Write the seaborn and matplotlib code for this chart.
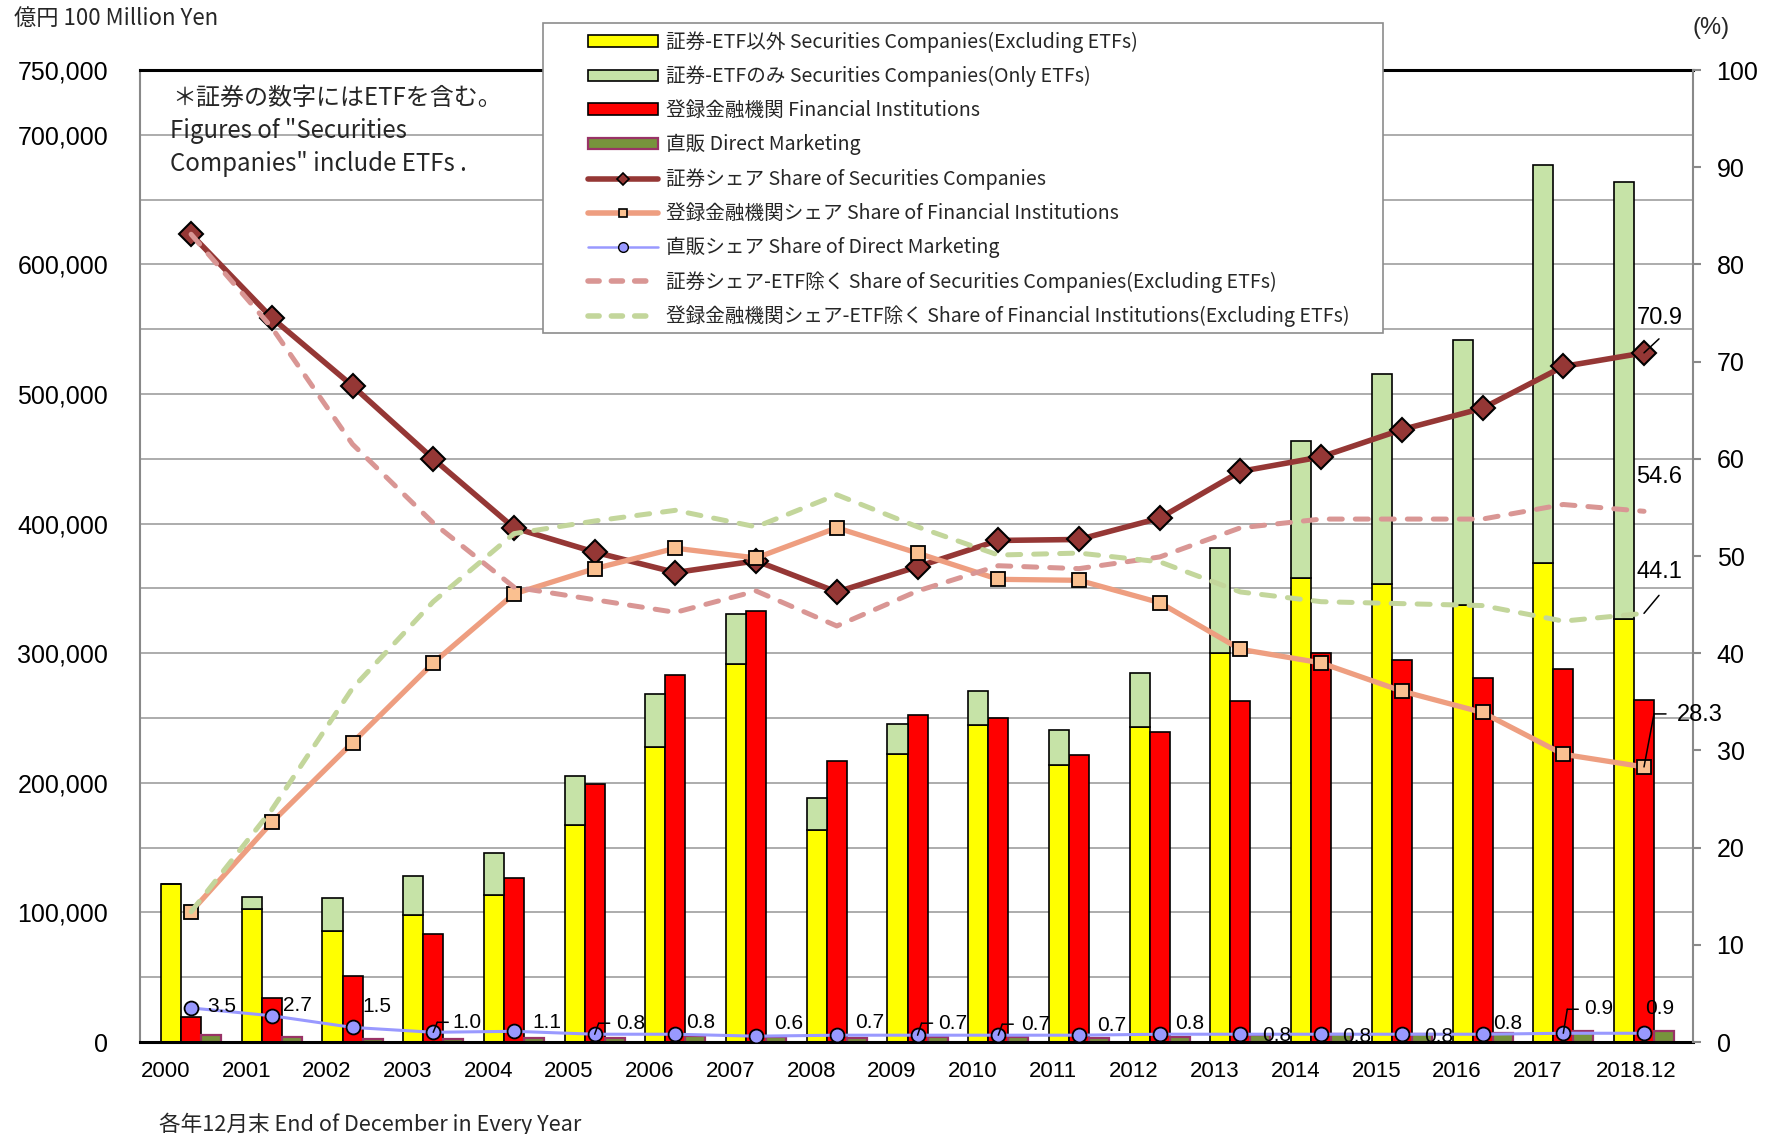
import numpy as np
import pandas as pd
import matplotlib
matplotlib.use("Agg")
import matplotlib.pyplot as plt
from matplotlib.patches import Patch, Rectangle
from matplotlib.lines import Line2D
from matplotlib.ticker import FuncFormatter
from matplotlib.transforms import offset_copy
import seaborn as sns

# ---------------- data ----------------
years = ["2000", "2001", "2002", "2003", "2004", "2005", "2006", "2007", "2008", "2009",
         "2010", "2011", "2012", "2013", "2014", "2015", "2016", "2017", "2018.12"]

sec_excl_etf = [122000, 102300, 85800, 97900, 113700, 167600, 227900, 291600, 163300, 222600,
                244500, 213900, 242700, 300400, 358000, 353600, 337000, 369300, 326500]
etf_only = [0, 9300, 25100, 30500, 31800, 37600, 41000, 38400, 25300, 22700,
            26200, 27100, 41900, 81100, 105600, 161500, 204300, 307400, 337100]
fin_inst = [19100, 33600, 50900, 83500, 126600, 199100, 282900, 332700, 216500, 252300,
            249700, 221800, 239200, 262800, 300300, 295100, 281100, 288100, 263700]
direct = [5100, 4200, 2700, 2200, 3000, 3300, 4400, 4000, 2900, 3500,
          3700, 3300, 4200, 5200, 6200, 6400, 7000, 8700, 8300]

sec_share = [83.1, 74.5, 67.5, 60.0, 52.9, 50.4, 48.3, 49.5, 46.3, 48.9,
             51.6, 51.7, 53.9, 58.7, 60.2, 63.0, 65.2, 69.5, 70.9]
fin_share = [13.4, 22.6, 30.8, 39.0, 46.1, 48.7, 50.8, 49.8, 52.9, 50.3,
             47.6, 47.5, 45.2, 40.4, 39.0, 36.1, 33.9, 29.6, 28.3]
direct_share = [3.5, 2.7, 1.5, 1.0, 1.1, 0.8, 0.8, 0.6, 0.7, 0.7,
                0.7, 0.7, 0.8, 0.8, 0.8, 0.8, 0.8, 0.9, 0.9]
sec_excl_share = [83.1, 73.5, 61.5, 53.4, 46.8, 45.5, 44.2, 46.4, 42.8, 46.4,
                  49.0, 48.7, 49.9, 52.9, 53.8, 53.8, 53.8, 55.3, 54.6]
fin_excl_share = [13.4, 23.9, 36.4, 45.3, 52.3, 53.6, 54.7, 53.0, 56.3, 53.0,
                  50.1, 50.3, 49.4, 46.3, 45.3, 45.1, 44.9, 43.3, 44.1]

labels = [
    "証券-ETF以外 Securities Companies(Excluding ETFs)",
    "証券-ETFのみ Securities Companies(Only ETFs)",
    "登録金融機関 Financial Institutions",
    "直販 Direct Marketing",
    "証券シェア Share of Securities Companies",
    "登録金融機関シェア Share of Financial Institutions",
    "直販シェア Share of Direct Marketing",
    "証券シェア-ETF除く Share of Securities Companies(Excluding ETFs)",
    "登録金融機関シェア-ETF除く Share of Financial Institutions(Excluding ETFs)",
]

# ---------------- style ----------------
sns.set_theme(style="white")
plt.rcParams["font.family"] = ["Liberation Sans", "Noto Sans CJK JP", "DejaVu Sans"]
CJK = ["Noto Sans CJK JP", "DejaVu Sans"]

C_YEL = "#FFFF00"
C_ETF = "#C6E3A7"
C_RED = "#FF0000"
C_DIR = "#77933C"
C_DIR_E = "#993366"
C_SEC = "#953735"
C_FIN = "#EE9E80"
C_FIN_M = "#FAC090"
C_DS = "#9999FF"
C_SECX = "#D99694"
C_FINX = "#C3D69B"
GRID = "#A6A6A6"
SPINE = "#898989"

W, H = 1774, 1134
fig = plt.figure(figsize=(W / 100, H / 100), dpi=100)
L, R, T, B = 140, 1693, 70, 1042
pos = [L / W, 1 - B / H, (R - L) / W, (B - T) / H]
ax = fig.add_axes(pos)

n = len(years)
bw_total = 0.745
bw = bw_total / 3

df = pd.concat([
    pd.DataFrame({"year": years, "value": sec_excl_etf, "series": labels[0]}),
    pd.DataFrame({"year": years, "value": fin_inst, "series": labels[2]}),
    pd.DataFrame({"year": years, "value": direct, "series": labels[3]}),
], ignore_index=True)

sns.barplot(data=df, x="year", y="value", hue="series", order=years,
            hue_order=[labels[0], labels[2], labels[3]],
            palette=[C_YEL, C_RED, C_DIR], width=bw_total, saturation=1,
            edgecolor="black", linewidth=1.2, errorbar=None, legend=False, ax=ax)
for p in ax.containers[2]:
    p.set_edgecolor(C_DIR_E)
    p.set_linewidth(1.6)

xpos = np.arange(n)
ax.bar(xpos - bw, etf_only, bottom=sec_excl_etf, width=bw, color=C_ETF,
       edgecolor="black", linewidth=1.2)

ax.set_xlim(-0.633, n - 1 + 0.607)
ax.set_ylim(0, 750000)
yt = np.arange(0, 750001, 50000)
ax.set_yticks(yt)
ax.yaxis.set_major_formatter(FuncFormatter(
    lambda v, p: (f"{int(v):,}" if (int(v) % 100000 == 0 or int(v) == 750000) else "")))
ax.set_axisbelow(True)
ax.yaxis.grid(True, color=GRID, lw=1.3)
ax.xaxis.grid(False)
ax.set_xlabel("")
ax.set_ylabel("")

tick_pos = [i - 0.317 for i in range(n - 1)] + [n - 1 - 0.1]
ax.set_xticks(tick_pos)
ax.set_xticklabels(years)
ax.tick_params(axis="x", length=0, pad=14, labelsize=16, colors="black")
ax.tick_params(axis="y", length=0, pad=23, labelsize=18, colors="black")

for s in ("top", "bottom"):
    ax.spines[s].set_color("black")
    ax.spines[s].set_linewidth(2.2)
ax.spines["left"].set_color(SPINE)
ax.spines["left"].set_linewidth(1.5)
ax.spines["right"].set_visible(False)

# ---------------- share lines (right axis) ----------------
ax2 = ax.twinx()
ax2.set_position(pos)
ax.set_position(pos)
ax2.set_ylim(0, 100)
ax2.set_yticks(np.arange(0, 101, 10))
ax2.tick_params(axis="y", length=6, width=1.5, color=SPINE, pad=11, labelsize=18,
                direction="out", labelcolor="black")
for s in ("top", "bottom", "left"):
    ax2.spines[s].set_visible(False)
ax2.spines["right"].set_color(SPINE)
ax2.spines["right"].set_linewidth(1.5)
ax2.grid(False)

ax2.plot(xpos, sec_share, color=C_SEC, lw=4, marker="D", ms=12, mfc=C_SEC,
         mec="black", mew=1.5, zorder=3, solid_capstyle="round")
ax2.plot(xpos, fin_share, color=C_FIN, lw=3.8, marker="s", ms=10, mfc=C_FIN_M,
         mec="black", mew=1.3, zorder=3, solid_capstyle="round")
ax2.plot(xpos, direct_share, color=C_DS, lw=2.2, marker="o", ms=10, mfc=C_DS,
         mec="black", mew=1.3, zorder=3)
ax2.plot(xpos, sec_excl_share, color=C_SECX, lw=3.6, ls=(0, (2.6, 2.6)),
         dash_capstyle="round", zorder=4)
ax2.plot(xpos, fin_excl_share, color=C_FINX, lw=3.6, ls=(0, (2.6, 2.6)),
         dash_capstyle="round", zorder=4)


def leader(axis, x, y, pts):
    for (x0, y0), (x1, y1) in zip(pts[:-1], pts[1:]):
        axis.annotate("", xy=(x, y),
                      xycoords=offset_copy(axis.transData, fig=fig, x=x1, y=y1, units="dots"),
                      xytext=(x, y),
                      textcoords=offset_copy(axis.transData, fig=fig, x=x0, y=y0, units="dots"),
                      arrowprops=dict(arrowstyle="-", lw=1.1, color="black",
                                      shrinkA=0, shrinkB=0), zorder=9)


def label(axis, x, y, text, dx, dy, size):
    axis.annotate(text, xy=(x, y), xytext=(dx, dy), textcoords="offset pixels",
                  ha="center", va="center", fontsize=size, color="black", zorder=10)


last = n - 1
label(ax2, last, sec_share[last], f"{sec_share[last]:.1f}", 16, 35, 17)
leader(ax2, last, sec_share[last], [(0, 0), (15, 14)])
label(ax2, last, sec_excl_share[last], f"{sec_excl_share[last]:.1f}", 15, 34, 17)
label(ax2, last, fin_excl_share[last], f"{fin_excl_share[last]:.1f}", 15, 41, 17)
leader(ax2, last, fin_excl_share[last], [(0, 0), (15, 18)])
label(ax2, last, fin_share[last], f"{fin_share[last]:.1f}", 56, 52, 17)
leader(ax2, last, fin_share[last], [(0, 0), (10, 53), (22, 53)])

# direct share labels (layout offsets in pixels)
d_off = [(31, 1), (26, 10), (24, 21), (34, 10), (33, 9), (36, 11), (25, 12), (33, 13),
         (33, 13), (35, 12), (37, 11), (33, 10), (30, 11), (36, -1), (36, -2), (37, -2),
         (25, 11), (35, 25), (16, 25)]
d_lead = {3: 10, 5: 11, 9: 12, 10: 11, 17: 24}
for i in range(n):
    dx, dy = d_off[i]
    label(ax2, i, direct_share[i], f"{direct_share[i]:.1f}", dx, dy, 15)
    if i in d_lead:
        h = d_lead[i]
        leader(ax2, i, direct_share[i], [(0, 0), (4, h), (15, h)])

# ---------------- texts ----------------
fig.text(14 / W, 1 - 18 / H, "億円 100 Million Yen", fontsize=16, va="center", family=CJK)
fig.text(1711 / W, 1 - 28 / H, "(%)", fontsize=17, va="center", ha="center")
fig.text(172 / W, 1 - 98 / H, "＊証券の数字にはETFを含む。", fontsize=17.3, va="center", family=CJK)
fig.text(170 / W, 1 - 131 / H, 'Figures of "Securities', fontsize=17.3, va="center", family=CJK)
fig.text(170 / W, 1 - 164 / H, 'Companies" include ETFs .', fontsize=17.3, va="center", family=CJK)
fig.text(159 / W, 1 - 1124 / H, "各年12月末 End of December in Every Year", fontsize=15.6,
         va="center", family=CJK)

# ---------------- legend ----------------
fig.add_artist(Rectangle((543 / W, 1 - 333 / H), (1383 - 543) / W, (333 - 23) / H,
                         transform=fig.transFigure, facecolor="white", edgecolor="#8C8C8C",
                         lw=1.2, zorder=4))
handles = [
    Patch(facecolor=C_YEL, edgecolor="black", lw=1.2),
    Patch(facecolor=C_ETF, edgecolor="black", lw=1.2),
    Patch(facecolor=C_RED, edgecolor="black", lw=1.2),
    Patch(facecolor=C_DIR, edgecolor=C_DIR_E, lw=1.6),
    Line2D([], [], color=C_SEC, lw=4, marker="D", ms=6, mfc=C_SEC, mec="black", mew=1.2,
           solid_capstyle="round"),
    Line2D([], [], color=C_FIN, lw=4, marker="s", ms=6, mfc=C_FIN_M, mec="black", mew=1.2,
           solid_capstyle="round"),
    Line2D([], [], color=C_DS, lw=1.8, marker="o", ms=7, mfc=C_DS, mec="black", mew=1.0),
    Line2D([], [], color=C_SECX, lw=4, ls=(0, (2.0, 2.2)), dash_capstyle="round"),
    Line2D([], [], color=C_FINX, lw=4, ls=(0, (2.0, 2.2)), dash_capstyle="round"),
]
fig.legend(handles, labels, loc="upper left", bbox_to_anchor=(588 / W, 1 - 31 / H),
           frameon=False, borderpad=0, borderaxespad=0, handlelength=3.55,
           handleheight=0.55, handletextpad=0.42, labelspacing=0.66,
           prop={"family": CJK, "size": 14.1})

fig.savefig("out.png", dpi=100)
